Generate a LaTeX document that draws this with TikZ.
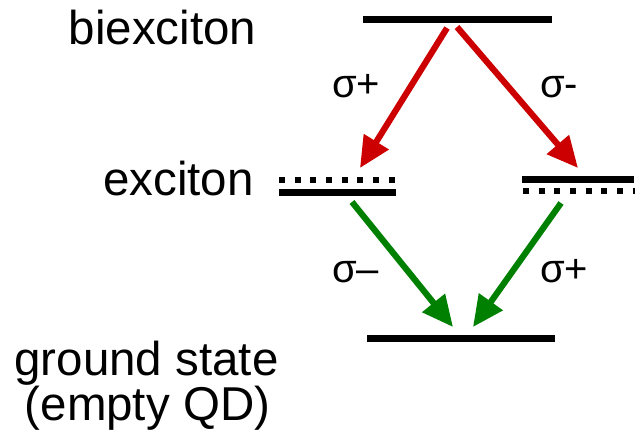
\documentclass[tikz,border=0pt]{standalone}
\usepackage{fontspec}
\setmainfont{Liberation Sans}
\usetikzlibrary{arrows.meta}
\definecolor{arrred}{RGB}{204,0,0}
\definecolor{arrgreen}{RGB}{0,128,0}
\tikzset{
  level/.style={line width=7pt, line cap=butt},
  dashlevel/.style={line width=6pt, line cap=butt, dash pattern=on 6pt off 9.65pt},
  trans/.style={line width=6.2pt, -{Triangle[length=31pt,width=28pt]}},
  statelabel/.style={anchor=base, inner sep=0pt, font=\fontsize{47.5}{47}\selectfont},
  pollabel/.style={anchor=base west, inner sep=0pt, font=\fontsize{40}{40}\selectfont}
}
\begin{document}
\begin{tikzpicture}[x=1pt,y=-1pt]
\useasboundingbox (0,0) rectangle (635,444);
% levels
\coordinate (bxL) at (363,20);
\coordinate (bxR) at (552,20);
\coordinate (exLd1) at (279,179.5);
\coordinate (exLd2) at (396,179.5);
\coordinate (exLs1) at (279,192);
\coordinate (exLs2) at (396,192);
\coordinate (exRs1) at (522,179);
\coordinate (exRs2) at (634,179);
\coordinate (exRd1) at (523,191);
\coordinate (exRd2) at (635,191);
\coordinate (gL) at (367,338);
\coordinate (gR) at (555,338);
\draw[level] (bxL) -- (bxR);
\draw[dashlevel] (exLd1) -- (exLd2);
\draw[level] (exLs1) -- (exLs2);
\draw[level] (exRs1) -- (exRs2);
\draw[dashlevel] (exRd1) -- (exRd2);
\draw[level] (gL) -- (gR);
% transitions
\coordinate (r1s) at (447,28);
\coordinate (r1e) at (360,168);
\coordinate (r2s) at (457,27);
\coordinate (r2e) at (578,168);
\coordinate (g1s) at (352,202);
\coordinate (g1e) at (453,327);
\coordinate (g2s) at (561,203);
\coordinate (g2e) at (473,327);
\draw[trans, draw=arrred, fill=arrred] (r1s) -- (r1e);
\draw[trans, draw=arrred, fill=arrred] (r2s) -- (r2e);
\draw[trans, draw=arrgreen, fill=arrgreen] (g1s) -- (g1e);
\draw[trans, draw=arrgreen, fill=arrgreen] (g2s) -- (g2e);
% labels
\node[statelabel] (tbx) at (162.5,45) {biexciton};
\node[statelabel] (tex) at (178.5,195) {exciton};
\node[statelabel] (tgs) at (146.5,375) {ground state};
\node[statelabel] (tqd) at (147.5,420) {(empty QD)};
\node[pollabel] (p1) at (332,97) {σ+};
\node[pollabel] (p2) at (540,97) {σ-};
\node[pollabel] (p3) at (332,282) {σ–};
\node[pollabel] (p4) at (540,282) {σ+};
\end{tikzpicture}
\end{document}
